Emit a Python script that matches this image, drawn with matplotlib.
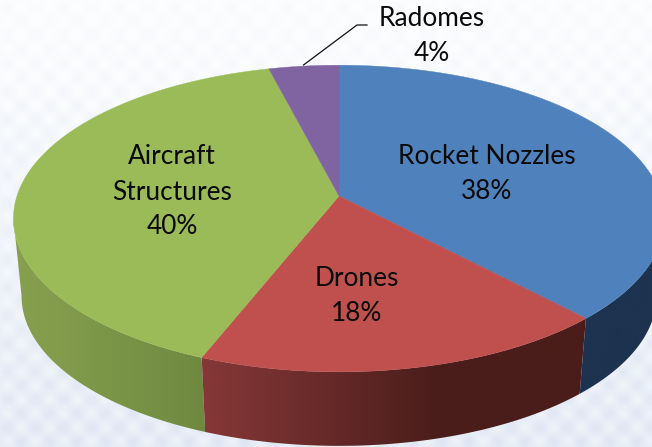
import matplotlib

matplotlib.use("Agg")
import matplotlib.pyplot as plt
import numpy as np
from matplotlib.colors import LinearSegmentedColormap
from matplotlib.patches import Polygon

LABELS = ["Rocket\u00a0Nozzles", "Drones", "Aircraft\nStructures", "Radomes"]
VALUES = [38, 18, 40, 4]
TOP_COLORS = ["#4f81bd", "#c0504d", "#9bbb59", "#8064a2"]
SIDE_COLORS = [
    ("#1d3350", "#1d3350"),
    ("#863838", "#4a1d1a"),
    ("#88a150", "#6f8a40"),
    ("#5a4676", "#5a4676"),
]
# centre of the first text line of each label
LABEL_POS = [(487, 156), (357, 278), (172, 156), (432, 18)]
LINE_PITCH = 36

W, H = 652, 447
APEX = (339, 196)
AX, BY, PERSP = 322, 150, -0.147
DEPTH, BASE_SCALE = 78.4, 0.975


def project(theta, scale=1.0, dy=0.0):
    """Map clockwise-from-top angles (deg) on the pie plane to pixels."""
    t = np.radians(theta)
    u, v = np.sin(t), -np.cos(t)
    w = 1 + PERSP * v
    x = APEX[0] + scale * AX * u / w
    y = APEX[1] + scale * BY * v / w + dy
    return x, y


fig = plt.figure(figsize=(W / 100, H / 100), dpi=100)
ax = fig.add_axes([0, 0, 1, 1])

# washed out checker backdrop, lighter at the top
yy, xx = np.mgrid[0:H, 0:W]
check = np.sin(xx * np.pi / 14) * np.sin(yy * np.pi / 14)
fade = yy / H
r = 252 - 22 * fade - (2 + 5 * fade) * check
g = 253 - 17 * fade - (2 + 4 * fade) * check
b = 254 - 8 * fade - (1 + 2 * fade) * check
ax.imshow(np.dstack([r, g, b]).clip(0, 255).astype(np.uint8),
          extent=(0, W, H, 0), aspect="auto", zorder=0)

edges = np.concatenate([[0], np.cumsum(VALUES)]) * 360 / sum(VALUES)

# the rim only shows between the two points where the outline is tangent
circle = np.linspace(0, 360, 1441)
circle_x = project(circle)[0]
rim_start, rim_end = circle[circle_x.argmax()], circle[circle_x.argmin()]

# rim first, the top face covers whatever is hidden behind it
for i in [0, 2, 1]:
    th = np.linspace(max(edges[i], rim_start), min(edges[i + 1], rim_end), 200)
    tx, ty = project(th)
    bx, by = project(th, BASE_SCALE, DEPTH)
    pts = np.column_stack([np.r_[tx, bx[::-1]], np.r_[ty, by[::-1]]])
    poly = Polygon(pts, closed=True, facecolor="none", edgecolor="none",
                   transform=ax.transData)
    ax.add_patch(poly)
    left, right = pts[:, 0].min(), pts[:, 0].max()
    cmap = LinearSegmentedColormap.from_list("rim", SIDE_COLORS[i])
    # the red rim reaches its darkest well before its right end
    ramp = np.linspace(0, 1, 256).reshape(1, -1)
    if i == 1:
        ramp = np.clip(ramp / 0.62, 0, 1)
    im = ax.imshow(ramp, cmap=cmap, vmin=0, vmax=1, aspect="auto",
                   extent=(left, right, H, 0), zorder=2)
    im.set_clip_path(poly)

for i, color in enumerate(TOP_COLORS):
    th = np.linspace(edges[i], edges[i + 1], 200)
    tx, ty = project(th)
    pts = np.column_stack([np.r_[APEX[0], tx], np.r_[APEX[1], ty]])
    ax.add_patch(Polygon(pts, closed=True, facecolor=color, edgecolor=color,
                         linewidth=0.3, zorder=3))

for name, val, (x, y) in zip(LABELS, VALUES, LABEL_POS):
    n_lines = name.count("\n") + 2
    ax.text(x, y + LINE_PITCH * (n_lines - 1) / 2, f"{name}\n{val}%", ha="center", va="center",
            family="Lato", fontsize=18.9, color="#0a0a0a", linespacing=1.5, zorder=5)

ax.plot([303.5, 357, 367], [65, 25, 25], color="#111111", lw=0.9, zorder=4)

ax.set_xlim(0, W)
ax.set_ylim(H, 0)
ax.axis("off")
fig.savefig("out.png", dpi=100)
